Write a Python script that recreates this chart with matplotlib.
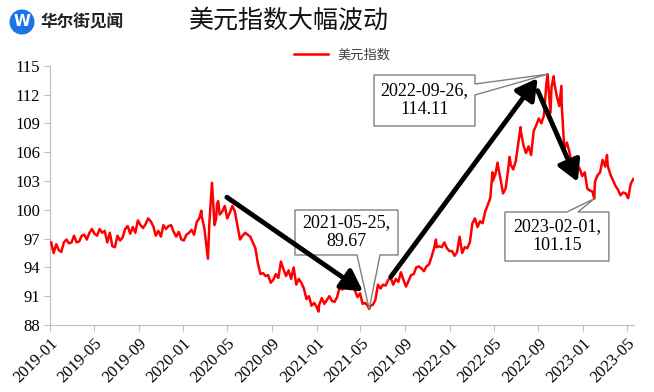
import numpy as np
import pandas as pd
import matplotlib
matplotlib.use('Agg')
import matplotlib.pyplot as plt
import matplotlib.dates as mdates
from matplotlib.patches import Polygon, Ellipse

plt.rcParams['font.family'] = ['Liberation Serif', 'Noto Sans CJK SC']

# --- data: weekly (Friday) closes of the US dollar index ---
week_start = '2019-01-04'

vals_2019 = [96.6, 95.5, 96.4, 95.8,
             95.6, 96.6, 96.9, 96.5,
             96.6, 97.3, 96.6, 96.7, 97.3,
             97.4, 96.9, 97.6, 98.0,
             97.5, 97.3, 98.0, 97.6, 97.8,
             96.6, 97.6, 96.2, 96.1,
             97.3, 96.8, 97.1, 98.0,
             98.3, 97.5, 98.2, 97.6, 98.9,
             98.4, 98.1, 98.5, 99.1,
             98.8, 98.3, 97.3, 97.8,
             97.2, 98.4, 98.0, 98.3, 98.4,
             97.7, 97.2, 97.7, 96.9]
vals_2020 = [96.8, 97.4, 97.6, 97.9, 97.4,
             98.7, 99.1, 99.3, 98.1,
             95.8, 98.7, 102.8, 98.4,
             100.6, 99.5, 99.8, 100.4,
             99.1, 99.7, 100.4, 99.8, 98.3,
             96.9, 97.3, 97.6, 97.4,
             97.2, 96.6, 96.0, 94.4, 93.3,
             93.4, 93.1, 93.2, 92.4,
             92.7, 93.3, 92.9, 94.6,
             93.8, 93.1, 93.7, 92.8, 94.0,
             92.2, 92.8, 92.4, 91.8,
             90.7, 91.0, 90.0, 90.3]
vals_2021 = [89.9, 90.1, 90.8, 90.2, 90.6,
             91.0, 90.5, 90.4, 90.9,
             91.9, 91.7, 91.9, 92.8,
             93.0, 92.2, 91.6, 90.9, 91.3,
             90.2, 90.3, 90.0, 90.0,
             90.1, 90.6, 92.2, 91.8,
             92.2, 92.1, 92.7, 92.9, 92.2,
             92.8, 92.5, 93.5, 92.7,
             92.0, 92.6, 93.2, 93.3,
             94.0, 94.1, 93.9, 93.6, 94.1,
             94.3, 95.1, 96.0, 96.1,
             96.2, 96.1, 96.6, 96.0, 95.7]
vals_2022 = [95.7, 95.2, 95.6, 97.2,
             95.5, 96.1, 96.0, 96.6,
             98.6, 99.1, 98.2, 98.8,
             98.6, 99.8, 100.5, 101.2, 103.0,
             103.7, 104.6, 103.2, 101.7,
             102.2, 104.2, 104.7, 104.2,
             105.1, 107.0, 108.1, 106.7, 105.9,
             106.6, 105.7, 108.2, 108.8,
             109.5, 109.0, 109.8, 113.2, 112.1,
             112.8, 113.3, 111.9, 110.8,
             110.8, 106.3, 107.0, 106.0,
             104.5, 104.8, 104.7, 104.3, 103.5]
vals_2023 = [103.9, 102.2, 102.0, 101.9,
             102.9, 103.6, 103.9, 105.2,
             104.5, 104.6, 103.7, 103.1, 102.5,
             102.1, 101.5, 101.8, 101.7,
             101.2, 102.7, 103.2]

# intra-week highs / lows visible on the chart
extra_dates = ['2020-02-20', '2020-03-09', '2020-03-31', '2020-04-06', '2021-01-06',
               '2021-03-31', '2021-11-24', '2022-04-28', '2022-05-12', '2022-06-14',
               '2022-07-14', '2022-10-04', '2022-10-13', '2022-11-03', '2023-03-08']
extra_values = [99.9, 94.9, 99.0, 100.9, 89.4,
                93.3, 96.9, 103.9, 104.9, 105.5,
                108.6, 110.1, 113.9, 112.9, 105.7]

# labelled turning points
mark_dates = ['2021-05-25', '2022-09-26', '2023-02-01']
mark_values = [89.67, 114.11, 101.15]

series_name = '美元指数'
title = '美元指数大幅波动'
brand = '华尔街见闻'

assert [len(v) for v in (vals_2019, vals_2020, vals_2021, vals_2022, vals_2023)] == [52, 52, 53, 52, 20]

weekly = vals_2019 + vals_2020 + vals_2021 + vals_2022 + vals_2023
s = pd.Series(weekly, index=pd.date_range(week_start, periods=len(weekly), freq='7D'))
s = pd.concat([s,
               pd.Series(extra_values, index=pd.to_datetime(extra_dates)),
               pd.Series(mark_values, index=pd.to_datetime(mark_dates))]).sort_index()

# --- figure ---
W, H = 654, 392
fig = plt.figure(figsize=(W / 100, H / 100), dpi=100)
ax = fig.add_axes([50 / W, 1 - 325 / H, 584 / W, 259.3 / H])

ax.plot(s.index, s.values, color='#ff0000', lw=1.8, label=series_name, zorder=3)

ax.set_xlim(pd.Timestamp('2019-01-01'), pd.Timestamp('2023-05-21'))
ax.set_ylim(88, 115)
ax.set_yticks(np.arange(88, 116, 3))
ax.xaxis.set_major_locator(mdates.MonthLocator(bymonth=[1, 5, 9]))
ax.xaxis.set_major_formatter(mdates.DateFormatter('%Y-%m'))
for lab in ax.get_xticklabels():
    lab.set_rotation(45)
    lab.set_ha('right')
    lab.set_rotation_mode('anchor')

for side in ('top', 'right'):
    ax.spines[side].set_visible(False)
for side in ('left', 'bottom'):
    ax.spines[side].set_color('#bfbfbf')
ax.tick_params(axis='both', colors='#bfbfbf', labelcolor='black', labelsize=12, length=4)
ax.tick_params(axis='y', pad=3)

# legend above the plot
ax.legend(loc='center', bbox_to_anchor=(0.50, 1.041), frameon=False,
          handlelength=2.6, handletextpad=0.7,
          prop={'family': 'Noto Sans CJK SC', 'size': 9.5}, labelcolor='#404040')

# --- callout boxes ---
to_axes = ax.transData + ax.transAxes.inverted()


def callout(box, base, side, date, value, text):
    x0, y0, x1, y1 = box
    tip = tuple(to_axes.transform((mdates.date2num(pd.Timestamp(date)), value)))
    if side == 'bottom':
        pts = [(x0, y1), (x1, y1), (x1, y0), (base[1], y0), tip, (base[0], y0), (x0, y0)]
    elif side == 'right':
        pts = [(x0, y1), (x1, y1), (x1, base[0]), tip, (x1, base[1]), (x1, y0), (x0, y0)]
    else:
        pts = [(x0, y1), (base[0], y1), tip, (base[1], y1), (x1, y1), (x1, y0), (x0, y0)]
    ax.add_patch(Polygon(pts, closed=True, transform=ax.transAxes, facecolor='white',
                         edgecolor='#7f7f7f', lw=1.0, zorder=4, clip_on=False))
    ax.text((x0 + x1) / 2, (y0 + y1) / 2, text, transform=ax.transAxes, ha='center',
            va='center', fontsize=13, linespacing=1.15, zorder=5)


callout((0.4195, 0.270, 0.5959, 0.4435), (0.5257, 0.5651), 'bottom',
        mark_dates[0], mark_values[0], f'{mark_dates[0]},\n{mark_values[0]:.2f}')
callout((0.5548, 0.7674, 0.7277, 0.9641), (0.9294, 0.8871), 'right',
        mark_dates[1], mark_values[1], f'{mark_dates[1]},\n{mark_values[1]:.2f}')
callout((0.779, 0.2468, 0.957, 0.4358), (0.885, 0.904), 'top',
        mark_dates[2], mark_values[2], f'{mark_dates[2]},\n{mark_values[2]:.2f}')

# --- trend arrows ---
arrow_from = [('2020-04-30', 101.3), ('2021-07-23', 93.0), ('2022-08-30', 112.4)]
arrow_to = [('2021-05-08', 91.5), ('2022-08-30', 113.7), ('2022-12-18', 102.9)]
for (d0, v0), (d1, v1) in zip(arrow_from, arrow_to):
    ax.annotate('', xy=(pd.Timestamp(d1), v1), xytext=(pd.Timestamp(d0), v0),
                arrowprops=dict(arrowstyle='-|>,head_length=0.9,head_width=0.5',
                                lw=3.5, color='black', shrinkA=0, shrinkB=0,
                                mutation_scale=14),
                zorder=6)

# --- header: logo + title ---
fig.add_artist(Ellipse((22 / W, 1 - 22 / H), 25 / W, 25 / H, transform=fig.transFigure,
                       facecolor='#1a73e8', edgecolor='none'))
fig.text(22 / W, 1 - 22 / H, 'W', color='white', fontsize=11, fontweight='bold',
         family='DejaVu Sans', ha='center', va='center')
fig.text(41 / W, 1 - 22 / H, brand, fontsize=12, fontweight='bold',
         family='Noto Sans CJK SC', ha='left', va='center', color='#222222')
fig.text(289 / W, 1 - 21 / H, title, fontsize=18, family='Noto Sans CJK SC',
         ha='center', va='center', color='#111111')

fig.savefig('out.png', dpi=100)
